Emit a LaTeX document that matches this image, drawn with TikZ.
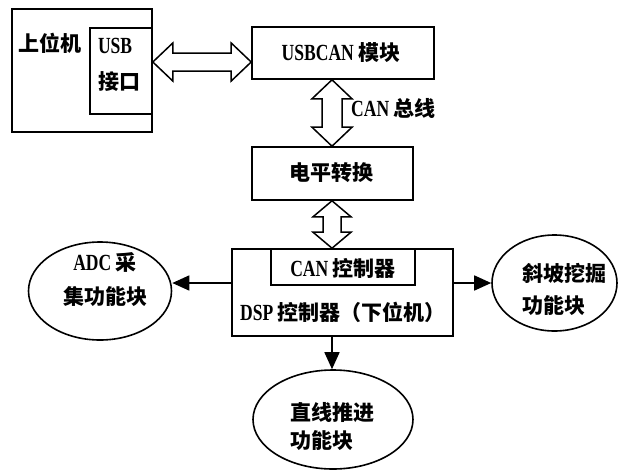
\documentclass[tikz,border=0pt]{standalone}
\usepackage{fontspec}
\setmainfont{Liberation Serif}[FakeStretch=0.76, Scale=1.1]
\newfontfamily\cjk{Noto Sans CJK SC}
\newcommand\zh[1]{{\cjk #1}}
\usetikzlibrary{arrows.meta,calc,shapes.geometric}
\tikzset{
  box/.style={draw, line width=1.6pt, rectangle, inner sep=0pt},
  oval/.style={draw, line width=1.6pt, ellipse, inner sep=0pt},
  txt/.style={inner sep=0pt, font=\bfseries\fontsize{21}{26}\selectfont},
  fat/.style={draw, line width=1.5pt, fill=white, line join=miter},
  arr/.style={line width=1.6pt, -{Triangle[length=17pt,width=15pt]}}
}
\begin{document}
\begin{tikzpicture}[x=1pt,y=-1pt]
\useasboundingbox (0,0) rectangle (632,472);
% upper computer
\node[box, minimum width=140, minimum height=123] (pc) at (82,70.5) {};
\node[box, minimum width=62, minimum height=86] (usb) at (121,71) {};
\node[txt] (pcl) at (50,43) {\zh{上位机}};
\node[txt, align=left] (usbt) at (119,65) {USB\\[10pt]\zh{接口}};
% USBCAN
\node[box, minimum width=182, minimum height=52] (usbcan) at (343,53) {};
\node[txt] (usbcant) at (341,53) {USBCAN \zh{模块}};
% level conversion
\node[box, minimum width=161, minimum height=53] (lvl) at (332.5,173.5) {};
\node[txt] (lvlt) at (331,173) {\zh{电平转换}};
% DSP
\node[box, minimum width=221, minimum height=87] (dsp) at (342.5,292.5) {};
\node[box, minimum width=144, minimum height=36] (can) at (343,267) {};
\node[txt] (cant) at (343,268) {CAN \zh{控制器}};
\node[txt] (dspt) at (343,312) {DSP \zh{控制器（下位机）}};
% ellipses
\node[oval, minimum width=143, minimum height=98] (adc) at (100,291) {};
\node[txt, align=center] (adct) at (105,280) {ADC \zh{采}\\[8pt]\zh{集功能块}};
\node[oval, minimum width=125, minimum height=96] (rt) at (554.5,283) {};
\node[txt, align=left] (rtt) at (564,289) {\zh{斜坡挖掘}\\[6pt]\zh{功能块}};
\node[oval, minimum width=160, minimum height=99] (bt) at (333,419.5) {};
\node[txt, align=left] (btt) at (332,426) {\zh{直线推进}\\[2pt]\zh{功能块}};
% CAN bus label
\node[txt, anchor=west] (canbus) at (351,108) {CAN \zh{总线}};
% horizontal fat double arrow
\coordinate (h1) at ($(usb.east)+(0,-9)$);
\coordinate (h2) at (h1 -| usbcan.west);
\draw[fat] (h1) -- ++(20,-19) -- ++(0,10) -- ($(h2)+(-20,-9)$) -- ++(0,-10) -- (h2)
  -- ++(-20,19) -- ++(0,-10) -- ($(h1)+(20,9)$) -- ++(0,10) -- cycle;
% vertical fat double arrow 1
\coordinate (v1) at ($(usbcan.south)+(-11,0)$);
\coordinate (v2) at (v1 |- lvl.north);
\draw[fat] (v1) -- ++(20,19) -- ++(-10,0) -- ($(v2)+(10,-19)$) -- ++(10,0) -- (v2)
  -- ++(-20,-19) -- ++(10,0) -- ($(v1)+(-10,19)$) -- ++(-10,0) -- cycle;
% vertical fat double arrow 2
\coordinate (v3) at ($(lvl.south)+(-0.5,0)$);
\coordinate (v4) at (v3 |- dsp.north);
\draw[fat] (v3) -- ++(19,16) -- ++(-10,0) -- ($(v4)+(9,-16)$) -- ++(10,0) -- (v4)
  -- ++(-19,-16) -- ++(10,0) -- ($(v3)+(-9,16)$) -- ++(-10,0) -- cycle;
% thin arrows
\coordinate (l1) at ($(dsp.west)+(0,-9.5)$);
\draw[arr] (l1) -- (l1 -| adc.east);
\coordinate (r1) at ($(dsp.east)+(0,-9.5)$);
\draw[arr] (r1) -- (r1 -| rt.west);
\coordinate (d1) at ($(dsp.south)+(-10.5,0)$);
\draw[arr] (d1) -- (d1 |- bt.north);
\end{tikzpicture}
\end{document}
